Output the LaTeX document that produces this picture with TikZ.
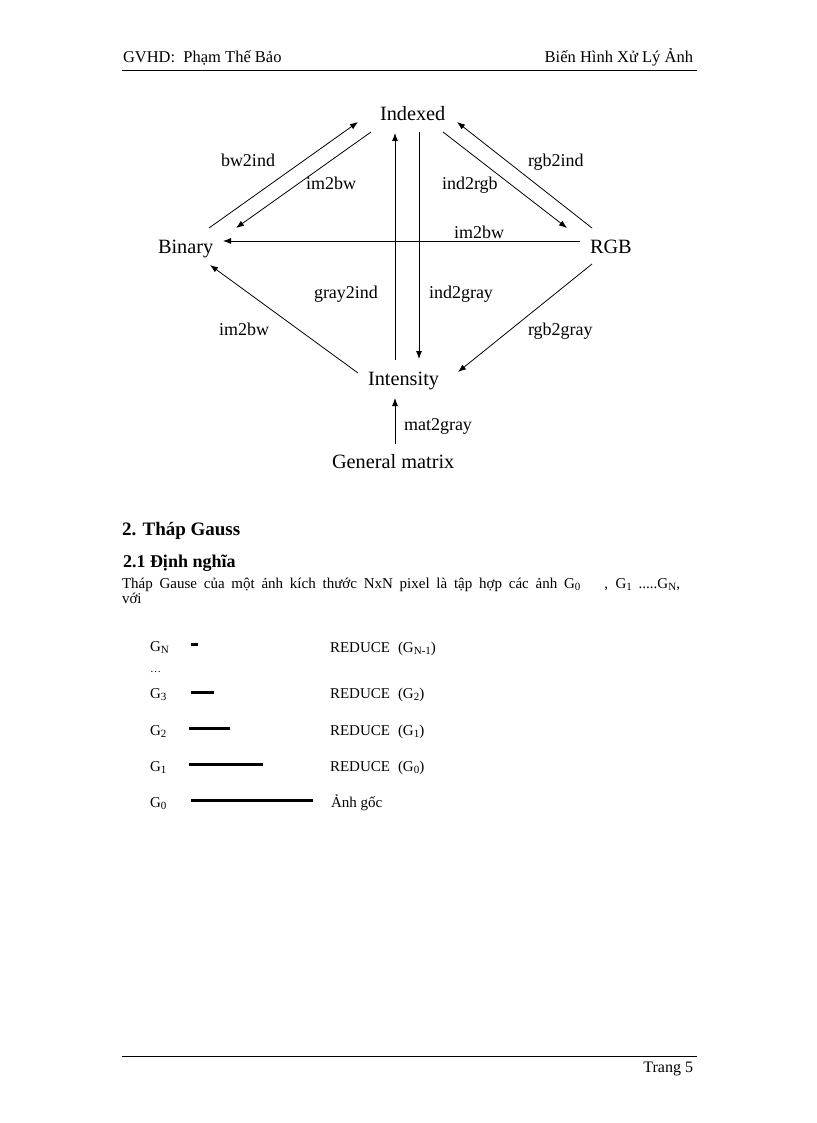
\documentclass[tikz,border=0pt]{standalone}
\usepackage{fontspec}
\setmainfont{Liberation Serif}
\usetikzlibrary{arrows.meta}
\newcommand{\sbs}[1]{\raisebox{-2.5pt}{\fontsize{11}{12}\selectfont #1}}
\begin{document}
\begin{tikzpicture}[x=1pt,y=-1pt,
  every node/.style={inner sep=0pt, outer sep=0pt},
  vtx/.style={anchor=base west, font=\fontsize{20.3}{24}\selectfont},
  lbl/.style={anchor=base west, font=\fontsize{18}{22}\selectfont},
  conv/.style={line width=0.8pt, -{Latex[length=8pt,width=6pt]}},
  hdr/.style={font=\fontsize{16.5}{19}\selectfont},
  body/.style={anchor=base west, font=\fontsize{15}{18}\selectfont},
  bar/.style={line width=3pt},
  rule/.style={line width=0.8pt}]
\useasboundingbox (0,0) rectangle (816,1123);
% header
\node[hdr, anchor=base west] (hl) at (123,63) {GVHD:\ \ Phạm\ Thế\ Bảo};
\node[hdr, anchor=base east] (hr) at (693,63) {Biến\ Hình\ Xử\ Lý\ Ảnh};
\coordinate (hlA) at (122,70); \coordinate (hlB) at (697,70);
\draw[rule] (hlA) -- (hlB);
% footer
\coordinate (flA) at (122,1056); \coordinate (flB) at (697,1056);
\draw[rule] (flA) -- (flB);
\node[hdr, anchor=base east] (pg) at (693,1072) {\fontsize{16}{19}\selectfont Trang\ 5};
% diagram vertices
\node[vtx] (ind) at (380,121) {Indexed};
\node[vtx] (bin) at (158,253) {Binary};
\node[vtx] (rgb) at (590,253) {RGB};
\node[vtx] (int) at (368,385) {Intensity};
\node[vtx] (gen) at (332,468) {General matrix};
% endpoints
\coordinate (a1s) at (209,228); \coordinate (a1e) at (358,122);
\coordinate (a2s) at (371,132); \coordinate (a2e) at (236,228);
\coordinate (a3s) at (443,132); \coordinate (a3e) at (567,228);
\coordinate (a4s) at (592,228); \coordinate (a4e) at (457,122);
\coordinate (a5s) at (580,241); \coordinate (a5e) at (223,241);
\coordinate (a6s) at (395,360); \coordinate (a6e) at (395,133);
\coordinate (a7s) at (419,132); \coordinate (a7e) at (419,359);
\coordinate (a8s) at (358,373); \coordinate (a8e) at (210,265);
\coordinate (a9s) at (592,264); \coordinate (a9e) at (458,372);
\coordinate (a10s) at (395,444); \coordinate (a10e) at (395,398);
\draw[conv] (a1s) -- (a1e);
\draw[conv] (a2s) -- (a2e);
\draw[conv] (a3s) -- (a3e);
\draw[conv] (a4s) -- (a4e);
\draw[conv] (a5s) -- (a5e);
\draw[conv] (a6s) -- (a6e);
\draw[conv] (a7s) -- (a7e);
\draw[conv] (a8s) -- (a8e);
\draw[conv] (a9s) -- (a9e);
\draw[conv] (a10s) -- (a10e);
% labels
\node[lbl] (l1) at (221,167) {bw2ind};
\node[lbl] (l2) at (306,190) {im2bw};
\node[lbl] (l3) at (442,190) {ind2rgb};
\node[lbl] (l4) at (528,167) {rgb2ind};
\node[lbl] (l5) at (454,238) {im2bw};
\node[lbl] (l6) at (314,298) {gray2ind};
\node[lbl] (l7) at (429,298) {ind2gray};
\node[lbl] (l8) at (219,335) {im2bw};
\node[lbl] (l9) at (528,335) {rgb2gray};
\node[lbl] (l10) at (404,430) {mat2gray};
% section text
\node[anchor=base west, font=\fontsize{19}{22}\selectfont\bfseries] (h2) at (122,535) {2. Tháp Gauss};
\node[anchor=base west, font=\fontsize{18}{21}\selectfont\bfseries] (h21) at (123,567) {2.1 Định nghĩa};
\node[body] (p1) at (122,588) {\makebox[558pt][s]{Tháp Gause của một ảnh kích thước NxN pixel là tập hợp các ảnh G\sbs{0}\hspace{24pt}, G\sbs{1} .....G\sbs{N},}};
\node[body] (p2) at (122,603) {với};
% pyramid
\node[body] (gN) at (150,651) {G\sbs{N}};
\node[body] (gd) at (150,672) {\fontsize{11}{12}\selectfont\dots};
\node[body] (g3) at (150,698) {G\sbs{3}};
\node[body] (g2) at (150,735) {G\sbs{2}};
\node[body] (g1) at (150,771) {G\sbs{1}};
\node[body] (g0) at (150,807) {G\sbs{0}};
\coordinate (bNa) at (191,644); \coordinate (bNb) at (198,644);
\coordinate (b3a) at (191,692); \coordinate (b3b) at (214,692);
\coordinate (b2a) at (189,728); \coordinate (b2b) at (230,728);
\coordinate (b1a) at (189,764); \coordinate (b1b) at (263,764);
\coordinate (b0a) at (191,800); \coordinate (b0b) at (313,800);
\draw[bar] (bNa) -- (bNb);
\draw[bar] (b3a) -- (b3b);
\draw[bar] (b2a) -- (b2b);
\draw[bar] (b1a) -- (b1b);
\draw[bar] (b0a) -- (b0b);
\node[body] (rN) at (330,652) {REDUCE\hspace{8pt}(G\sbs{N-1})};
\node[body] (r3) at (330,698) {REDUCE\hspace{8pt}(G\sbs{2})};
\node[body] (r2) at (330,735) {REDUCE\hspace{8pt}(G\sbs{1})};
\node[body] (r1) at (330,771) {REDUCE\hspace{8pt}(G\sbs{0})};
\node[body] (r0) at (331,807) {Ảnh gốc};
\end{tikzpicture}
\end{document}
